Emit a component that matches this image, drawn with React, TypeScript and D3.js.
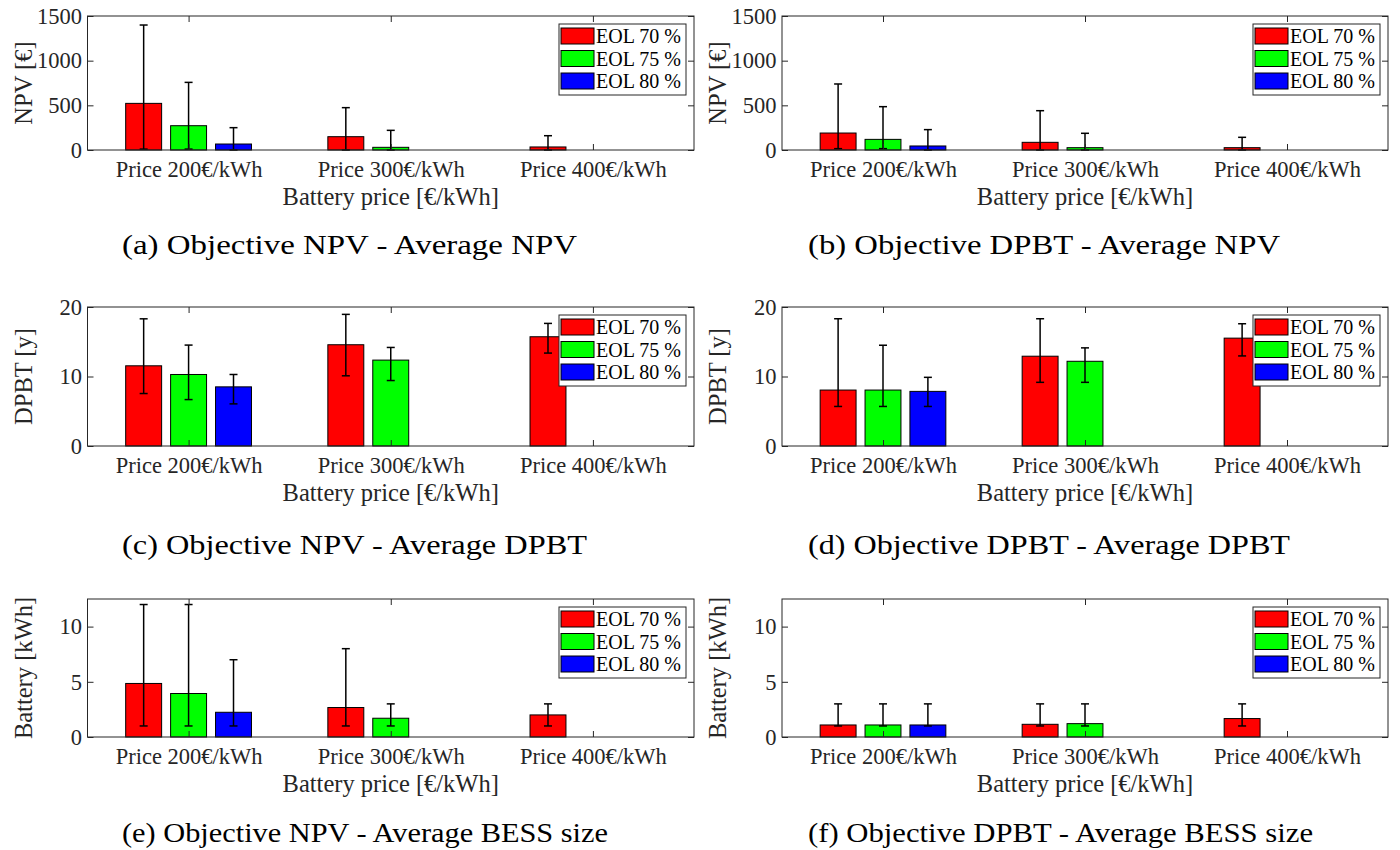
import React, { useEffect, useRef } from "react";
import * as d3 from "d3";

const categories = ["Price 200€/kWh", "Price 300€/kWh", "Price 400€/kWh"];
const seriesNames = ["EOL 70 %", "EOL 75 %", "EOL 80 %"];
const seriesColors = ["#ff0000", "#00ff00", "#0000ff"];

// rows = battery price, columns = EOL series
// (a) objective NPV - average NPV
const aMean = [[522, 272, 67], [149, 30, 0], [34, 0, 0]];
const aLow = [[10, 10, 0], [0, 0, 0], [0, 0, 0]];
const aHigh = [[1399, 757, 250], [474, 220, 0], [160, 0, 0]];
// (b) objective DPBT - average NPV
const bMean = [[190, 119, 45], [86, 26, 0], [26, 0, 0]];
const bLow = [[15, 15, 0], [0, 0, 0], [0, 0, 0]];
const bHigh = [[739, 485, 228], [440, 187, 0], [142, 0, 0]];
// (c) objective NPV - average DPBT
const cMean = [[11.54, 10.29, 8.51], [14.57, 12.36, 0], [15.72, 0, 0]];
const cLow = [[7.55, 6.68, 6.06], [10.1, 9.42, 0], [13.37, 0, 0]];
const cHigh = [[18.3, 14.52, 10.29], [18.94, 14.18, 0], [17.64, 0, 0]];
// (d) objective DPBT - average DPBT
const dMean = [[8.05, 8.05, 7.86], [12.92, 12.19, 0], [15.52, 0, 0]];
const dLow = [[5.69, 5.69, 5.69], [9.16, 9.16, 0], [12.96, 0, 0]];
const dHigh = [[18.31, 14.5, 9.88], [18.31, 14.12, 0], [17.59, 0, 0]];
// (e) objective NPV - average BESS size
const eMean = [[4.85, 3.94, 2.24], [2.67, 1.7, 0], [2.0, 0, 0]];
const eLow = [[1, 1, 1], [1, 1, 0], [1, 0, 0]];
const eHigh = [[12, 12, 7], [8, 3, 0], [3, 0, 0]];
// (f) objective DPBT - average BESS size
const fMean = [[1.09, 1.09, 1.09], [1.15, 1.21, 0], [1.67, 0, 0]];
const fLow = [[1, 1, 1], [1, 1, 0], [1, 0, 0]];
const fHigh = [[3, 3, 3], [3, 3, 0], [3, 0, 0]];

const npvTicks = [0, 500, 1000, 1500];
const dpbtTicks = [0, 10, 20];
const bessTicks = [0, 5, 10];

const xLabel = "Battery price [€/kWh]";

const FONT = "'Liberation Serif', 'Times New Roman', Times, serif";
const AXIS = "#262626";

const colLeft = [87.5, 782];
const colRight = [694, 1388];
const rowTop = [16, 307, 599];
const rowBottom = [150, 446, 737];
const captionX = [122, 808];
const captionY = [254, 554, 842];

const panels = [
  { mean: aMean, low: aLow, high: aHigh, yMax: 1500, ticks: npvTicks, yLabel: "NPV [€]", caption: "(a) Objective NPV - Average NPV", capLen: 455, col: 0, row: 0 },
  { mean: bMean, low: bLow, high: bHigh, yMax: 1500, ticks: npvTicks, yLabel: "NPV [€]", caption: "(b) Objective DPBT - Average NPV", capLen: 472, col: 1, row: 0 },
  { mean: cMean, low: cLow, high: cHigh, yMax: 20, ticks: dpbtTicks, yLabel: "DPBT [y]", caption: "(c) Objective NPV - Average DPBT", capLen: 465, col: 0, row: 1 },
  { mean: dMean, low: dLow, high: dHigh, yMax: 20, ticks: dpbtTicks, yLabel: "DPBT [y]", caption: "(d) Objective DPBT - Average DPBT", capLen: 482, col: 1, row: 1 },
  { mean: eMean, low: eLow, high: eHigh, yMax: 12.5, ticks: bessTicks, yLabel: "Battery [kWh]", caption: "(e) Objective NPV - Average BESS size", capLen: 486, col: 0, row: 2 },
  { mean: fMean, low: fLow, high: fHigh, yMax: 12.5, ticks: bessTicks, yLabel: "Battery [kWh]", caption: "(f) Objective DPBT - Average BESS size", capLen: 505, col: 1, row: 2 },
];

function drawPanel(svg: any, p: any) {
  const left = colLeft[p.col], right = colRight[p.col];
  const top = rowTop[p.row], bottom = rowBottom[p.row];

  const x = d3.scaleLinear().domain([0.5, 3.5]).range([left, right]);
  const inner = d3.scaleBand().domain(seriesNames).range([-1 / 3, 1 / 3]).paddingInner(0.2).paddingOuter(0.1);
  const y = d3.scaleLinear().domain([0, p.yMax]).range([bottom, top]);
  const bw = x(inner.bandwidth()) - x(0);

  const g = svg.append("g");

  // bars
  const bars: any[] = [];
  categories.forEach((c, i) => {
    seriesNames.forEach((s, j) => {
      bars.push({ cat: i + 1, s, j, v: p.mean[i][j], lo: p.low[i][j], hi: p.high[i][j] });
    });
  });
  const shown = bars.filter(d => d.v > 0);
  const barX = (d: any) => x(d.cat + (inner(d.s) as number));
  const midX = (d: any) => barX(d) + bw / 2;

  g.selectAll("rect.bar")
    .data(shown)
    .enter().append("rect")
    .attr("class", "bar")
    .attr("x", barX)
    .attr("y", (d: any) => y(d.v))
    .attr("width", bw)
    .attr("height", (d: any) => y(0) - y(d.v))
    .attr("fill", (d: any) => seriesColors[d.j])
    .attr("stroke", "#000")
    .attr("stroke-width", 1);

  // error bars
  const errs = shown.filter(d => d.hi > 0);
  const eg = g.selectAll("g.err").data(errs).enter().append("g").attr("class", "err")
    .attr("stroke", "#000").attr("stroke-width", 1.5);
  eg.append("line")
    .attr("x1", midX).attr("x2", midX)
    .attr("y1", (d: any) => y(d.lo)).attr("y2", (d: any) => y(d.hi));
  eg.append("line")
    .attr("x1", (d: any) => midX(d) - 4).attr("x2", (d: any) => midX(d) + 4)
    .attr("y1", (d: any) => y(d.hi)).attr("y2", (d: any) => y(d.hi));
  eg.append("line")
    .attr("x1", (d: any) => midX(d) - 4).attr("x2", (d: any) => midX(d) + 4)
    .attr("y1", (d: any) => y(d.lo)).attr("y2", (d: any) => y(d.lo));

  // axes (inward ticks on all four sides)
  const styleAxis = (a: any) => {
    a.select(".domain").remove();
    a.selectAll(".tick line").attr("stroke", AXIS).attr("stroke-width", 1);
    a.selectAll("text").attr("fill", AXIS).attr("font-family", FONT).attr("font-size", 22.5);
  };
  g.append("g").attr("transform", `translate(${left},0)`)
    .call(d3.axisLeft(y).tickValues(p.ticks).tickSizeInner(-6).tickSizeOuter(0).tickPadding(5.5)
      .tickFormat(d3.format("d")))
    .call(styleAxis);
  g.append("g").attr("transform", `translate(${right},0)`)
    .call(d3.axisRight(y).tickValues(p.ticks).tickSizeInner(-6).tickSizeOuter(0).tickFormat(() => ""))
    .call(styleAxis);
  g.append("g").attr("transform", `translate(0,${bottom})`)
    .call(d3.axisBottom(x).tickValues([1, 2, 3]).tickSizeInner(-6).tickSizeOuter(0).tickPadding(11)
      .tickFormat((d: any) => categories[d - 1]))
    .call(styleAxis);
  g.append("g").attr("transform", `translate(0,${top})`)
    .call(d3.axisTop(x).tickValues([1, 2, 3]).tickSizeInner(-6).tickSizeOuter(0).tickFormat(() => ""))
    .call(styleAxis);

  g.append("rect")
    .attr("x", left).attr("y", top)
    .attr("width", right - left).attr("height", bottom - top)
    .attr("fill", "none").attr("stroke", AXIS).attr("stroke-width", 1);

  // axis labels
  g.append("text")
    .attr("transform", `translate(${left - 56},${(top + bottom) / 2}) rotate(-90)`)
    .attr("text-anchor", "middle")
    .attr("font-family", FONT).attr("font-size", 24.5).attr("fill", AXIS)
    .text(p.yLabel);
  g.append("text")
    .attr("x", (left + right) / 2).attr("y", bottom + 55)
    .attr("text-anchor", "middle")
    .attr("font-family", FONT).attr("font-size", 24.5).attr("fill", AXIS)
    .text(xLabel);

  // legend
  const lw = 127, lh = 71;
  const lx = right - 8 - lw, ly = top + 8;
  const lg = g.append("g").attr("transform", `translate(${lx},${ly})`);
  lg.append("rect").attr("width", lw).attr("height", lh)
    .attr("fill", "#fff").attr("stroke", AXIS).attr("stroke-width", 1);
  const item = lg.selectAll("g.item").data(seriesNames).enter().append("g")
    .attr("transform", (d: string, i: number) => `translate(2,${4 + i * 22.5})`);
  item.append("rect").attr("width", 33).attr("height", 16)
    .attr("fill", (d: string, i: number) => seriesColors[i])
    .attr("stroke", "#000").attr("stroke-width", 1);
  item.append("text").attr("x", 35).attr("y", 8).attr("dy", "0.35em")
    .attr("font-family", FONT).attr("font-size", 20).attr("fill", "#000")
    .text((d: string) => d);

  // caption
  svg.append("text")
    .attr("x", captionX[p.col]).attr("y", captionY[p.row])
    .attr("textLength", p.capLen).attr("lengthAdjust", "spacingAndGlyphs")
    .attr("font-family", FONT).attr("font-size", 27).attr("fill", "#000")
    .text(p.caption);
}

export default function App() {
  const ref = useRef<SVGSVGElement>(null);

  useEffect(() => {
    const svg = d3.select(ref.current);
    svg.selectAll("*").remove();
    svg.append("rect").attr("width", 1400).attr("height", 850).attr("fill", "#fff");
    panels.forEach(p => drawPanel(svg, p));
  }, []);

  return (
    <svg ref={ref} width={1400} height={850}
      style={{ position: "absolute", left: 0, top: 0, display: "block" }} />
  );
}
